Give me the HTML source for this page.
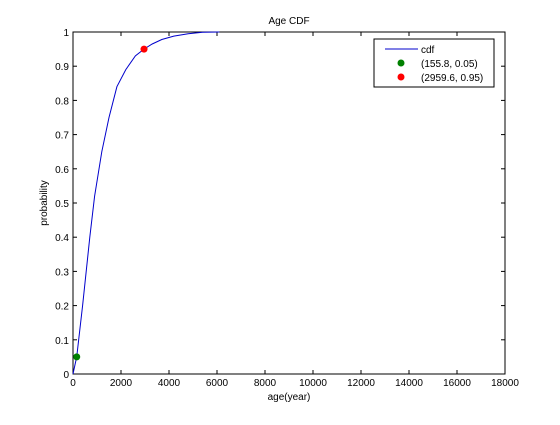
<!DOCTYPE html>
<html><head><meta charset="utf-8"><style>
body{margin:0;background:#fff;}
svg text{font-family:"Liberation Sans",sans-serif;font-size:10px;fill:#000;}
</style></head><body>
<svg id="chart" width="560" height="420">
<rect x="0" y="0" width="560" height="420" fill="#fff"/>
<text x="289" y="24" text-anchor="middle">Age CDF</text>
<rect x="73" y="32" width="432" height="342" fill="#fff" stroke="#000" stroke-width="1"/>
<g id="axes"></g>
<path id="cdf" fill="none" stroke="#0000cc" stroke-width="1"/>
<g id="pts"></g>
<text x="289" y="400" text-anchor="middle">age(year)</text>
<text transform="translate(47,203) rotate(-90)" text-anchor="middle">probability</text>
<g>
<rect x="374" y="39" width="120" height="48" fill="#fff" stroke="#000"/>
<line x1="385" y1="49" x2="418" y2="49" stroke="#0000cc"/>
<text x="421" y="53">cdf</text>
<circle cx="401" cy="63" r="3.5" fill="#008000"/>
<text x="421" y="67">(155.8, 0.05)</text>
<circle cx="401" cy="77" r="3.5" fill="#ff0000"/>
<text x="421" y="81">(2959.6, 0.95)</text>
</g>
</svg>
<script>
const cdfAges=[0,155.8,400,700,900,1200,1500,1830,2200,2600,2959.6,3300,3700,4200,4800,5400,6100];
const cdfProbs=[0,0.05,0.2,0.4,0.52,0.65,0.75,0.84,0.89,0.93,0.95,0.965,0.978,0.988,0.995,0.999,1.0];
const pointAges=[155.8,2959.6];
const pointProbs=[0.05,0.95];
const pointColors=['#008000','#ff0000'];
const xTicks=[0,2000,4000,6000,8000,10000,12000,14000,16000,18000];
const yTicks=[0,0.1,0.2,0.3,0.4,0.5,0.6,0.7,0.8,0.9,1];
const NS='http://www.w3.org/2000/svg';
const X=v=>73+v/18000*432, Y=v=>374-v*342;
const ax=document.getElementById('axes');
function mk(t,a){const e=document.createElementNS(NS,t);for(const k in a)e.setAttribute(k,a[k]);return e;}
xTicks.forEach(t=>{
 const x=X(t);
 const l1=mk('line',{x1:x,y1:374,x2:x,y2:370,stroke:'#000'});
 
 
 ax.appendChild(l1);
 const l2=mk('line',{x1:x,y1:32,x2:x,y2:36,stroke:'#000'});
 
 
 ax.appendChild(l2);
 const tx=mk('text',{x:x,y:386,'text-anchor':'middle'});tx.textContent=t;
 
 
 ax.appendChild(tx);
});
yTicks.forEach(t=>{
 const y=Y(t);
 const l1=mk('line',{x1:73,y1:y,x2:77,y2:y,stroke:'#000'});
 
 
 ax.appendChild(l1);
 const l2=mk('line',{x1:505,y1:y,x2:501,y2:y,stroke:'#000'});
 
 
 ax.appendChild(l2);
 const tx=mk('text',{x:69,y:y+4,'text-anchor':'end'});tx.textContent=String(t);
 
 
 ax.appendChild(tx);
});
document.getElementById('cdf').setAttribute('d',cdfAges.map((a,i)=>(i?'L':'M')+X(a).toFixed(1)+' '+Y(cdfProbs[i]).toFixed(1)).join(' '));
const pts=document.getElementById('pts');
pointAges.forEach((a,i)=>{
 const c=mk('circle',{cx:X(a),cy:Y(pointProbs[i]),r:3.5,fill:pointColors[i]});
 
 
 pts.appendChild(c);
});
</script>
</body></html>
